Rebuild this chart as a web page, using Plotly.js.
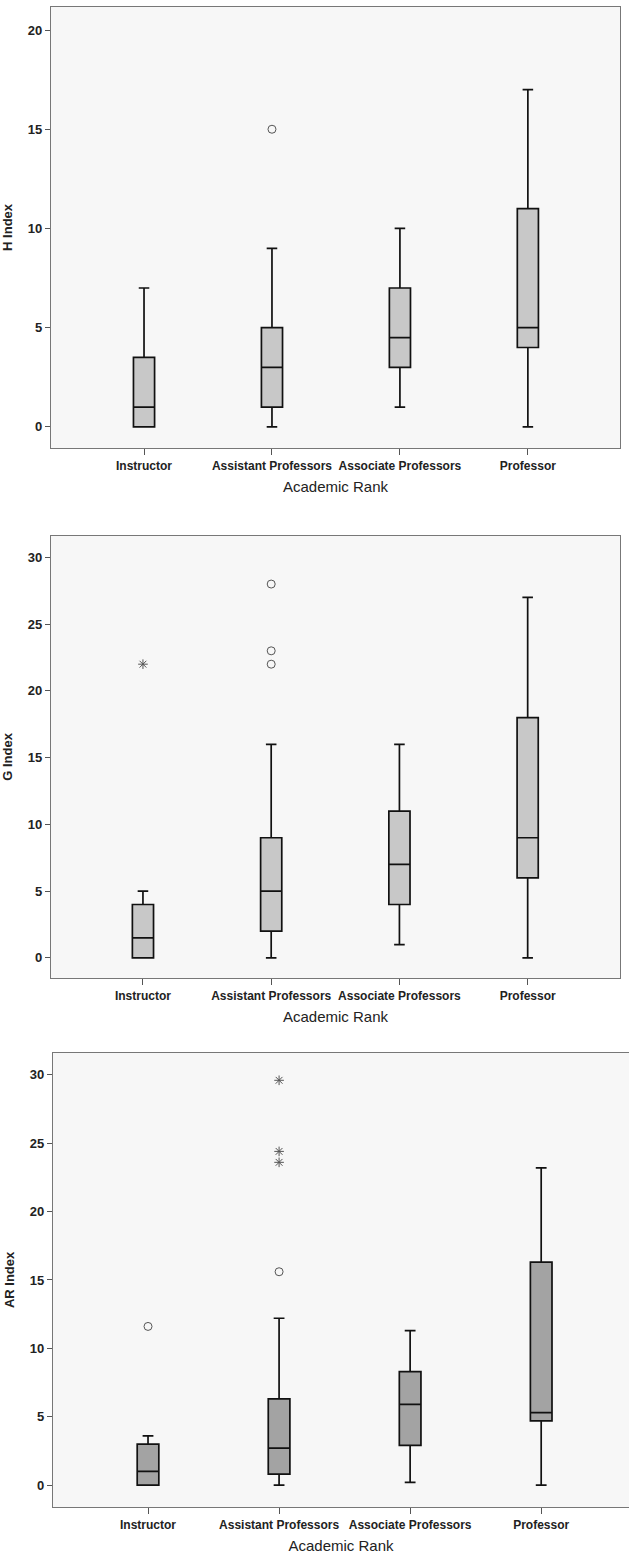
<!DOCTYPE html>
<html>
<head>
<meta charset="utf-8">
<script src="https://cdn.plot.ly/plotly-3.0.1.min.js"></script>
<style>
  html, body { margin: 0; padding: 0; background: #fff; }
  #chart { width: 629px; height: 1559px; }
</style>
</head>
<body>
<div id="chart"></div>
<script>
// Academic rank categories shared by all three panels.
const ranks = ['Instructor', 'Assistant Professors', 'Associate Professors', 'Professor'];

// H Index box summaries (min, Q1, median, Q3, max).
const hMin = [0, 0, 1, 0];
const hQ1  = [0, 1, 3, 4];
const hMed = [1, 3, 4.5, 5];
const hQ3  = [3.5, 5, 7, 11];
const hMax = [7, 9, 10, 17];
const hOutRank = ['Assistant Professors'];
const hOutVal  = [15];

// G Index box summaries.
const gMin = [0, 0, 1, 0];
const gQ1  = [0, 2, 4, 6];
const gMed = [1.5, 5, 7, 9];
const gQ3  = [4, 9, 11, 18];
const gMax = [5, 16, 16, 27];
const gOutRank = ['Assistant Professors', 'Assistant Professors', 'Assistant Professors'];
const gOutVal  = [22, 23, 28];
const gExtRank = ['Instructor'];
const gExtVal  = [22];

// AR Index box summaries.
const arMin = [0, 0, 0.2, 0];
const arQ1  = [0, 0.8, 2.9, 4.7];
const arMed = [1.0, 2.7, 5.9, 5.3];
const arQ3  = [3.0, 6.3, 8.3, 16.3];
const arMax = [3.6, 12.2, 11.3, 23.2];
const arOutRank = ['Instructor', 'Assistant Professors'];
const arOutVal  = [11.6, 15.6];
const arExtRank = ['Assistant Professors', 'Assistant Professors', 'Assistant Professors'];
const arExtVal  = [23.6, 24.4, 29.6];

const FONT = 'Liberation Sans, Arial, sans-serif';

function boxTrace(xa, ya, lo, q1, med, q3, hi, fill) {
  return {
    type: 'box', xaxis: xa, yaxis: ya,
    x: ranks, lowerfence: lo, q1: q1, median: med, q3: q3, upperfence: hi,
    boxpoints: false, width: 0.165, whiskerwidth: 0.5,
    fillcolor: fill, line: { color: '#111', width: 1.7 },
    hoverinfo: 'skip', showlegend: false,
  };
}

function pointTrace(xa, ya, xs, ys, symbol) {
  return {
    type: 'scatter', mode: 'markers', xaxis: xa, yaxis: ya,
    x: xs, y: ys,
    marker: { symbol: symbol, size: 8, color: '#555', line: { color: '#555', width: 1 } },
    hoverinfo: 'skip', showlegend: false,
  };
}

const traces = [
  boxTrace('x', 'y', hMin, hQ1, hMed, hQ3, hMax, '#c8c8c8'),
  pointTrace('x', 'y', hOutRank, hOutVal, 'circle-open'),
  boxTrace('x2', 'y2', gMin, gQ1, gMed, gQ3, gMax, '#c8c8c8'),
  pointTrace('x2', 'y2', gOutRank, gOutVal, 'circle-open'),
  pointTrace('x2', 'y2', gExtRank, gExtVal, 'asterisk-open'),
  boxTrace('x3', 'y3', arMin, arQ1, arMed, arQ3, arMax, '#a3a3a3'),
  pointTrace('x3', 'y3', arOutRank, arOutVal, 'circle-open'),
  pointTrace('x3', 'y3', arExtRank, arExtVal, 'asterisk-open'),
];

// Shared axis look (SPSS-like frame).
function xAxis(domain, range, anchor, mirror) {
  return {
    domain: domain, anchor: anchor, type: 'category', range: range,
    showgrid: false, zeroline: false,
    showline: true, linecolor: '#777', linewidth: 1.2, mirror: mirror,
    ticks: 'outside', ticklen: 6, tickcolor: '#555', tickangle: 0,
    tickfont: { family: FONT, size: 12, color: '#222', weight: 'bold' },
    title: { text: 'Academic Rank', standoff: 10, font: { family: FONT, size: 15, color: '#222' } },
    automargin: false, fixedrange: true,
  };
}
function yAxis(domain, range, anchor, label, mirror) {
  return {
    domain: domain, anchor: anchor, range: range, dtick: 5,
    showgrid: false, zeroline: false,
    showline: true, linecolor: '#777', linewidth: 1.2, mirror: mirror,
    ticks: 'outside', ticklen: 5, tickcolor: '#555',
    tickfont: { family: FONT, size: 13, color: '#222', weight: 'bold' },
    title: { text: label, standoff: 12, font: { family: FONT, size: 13, color: '#222', weight: 'bold' } },
    automargin: false, fixedrange: true,
  };
}

const layout = {
  width: 629, height: 1559,
  margin: { l: 0, r: 0, t: 0, b: 0 },
  paper_bgcolor: '#fff', plot_bgcolor: '#f7f7f7',
  font: { family: FONT },
  xaxis:  xAxis([51 / 629, 620 / 629], [-0.727, 3.72], 'y', true),
  yaxis:  yAxis([0.7127, 0.9955], [-1.06, 21.16], 'x', 'H Index', true),
  xaxis2: xAxis([51 / 629, 620 / 629], [-0.717, 3.72], 'y2', true),
  yaxis2: yAxis([0.3727, 0.6562], [-1.5, 31.6], 'x2', 'G Index', true),
  xaxis3: xAxis([53 / 629, 1], [-0.725, 3.67], 'y3', true),
  yaxis3: yAxis([0.0334, 0.3246], [-1.6, 31.6], 'x3', 'AR Index', false),
};

Plotly.newPlot('chart', traces, layout, { displayModeBar: false, staticPlot: true });
</script>
</body>
</html>
